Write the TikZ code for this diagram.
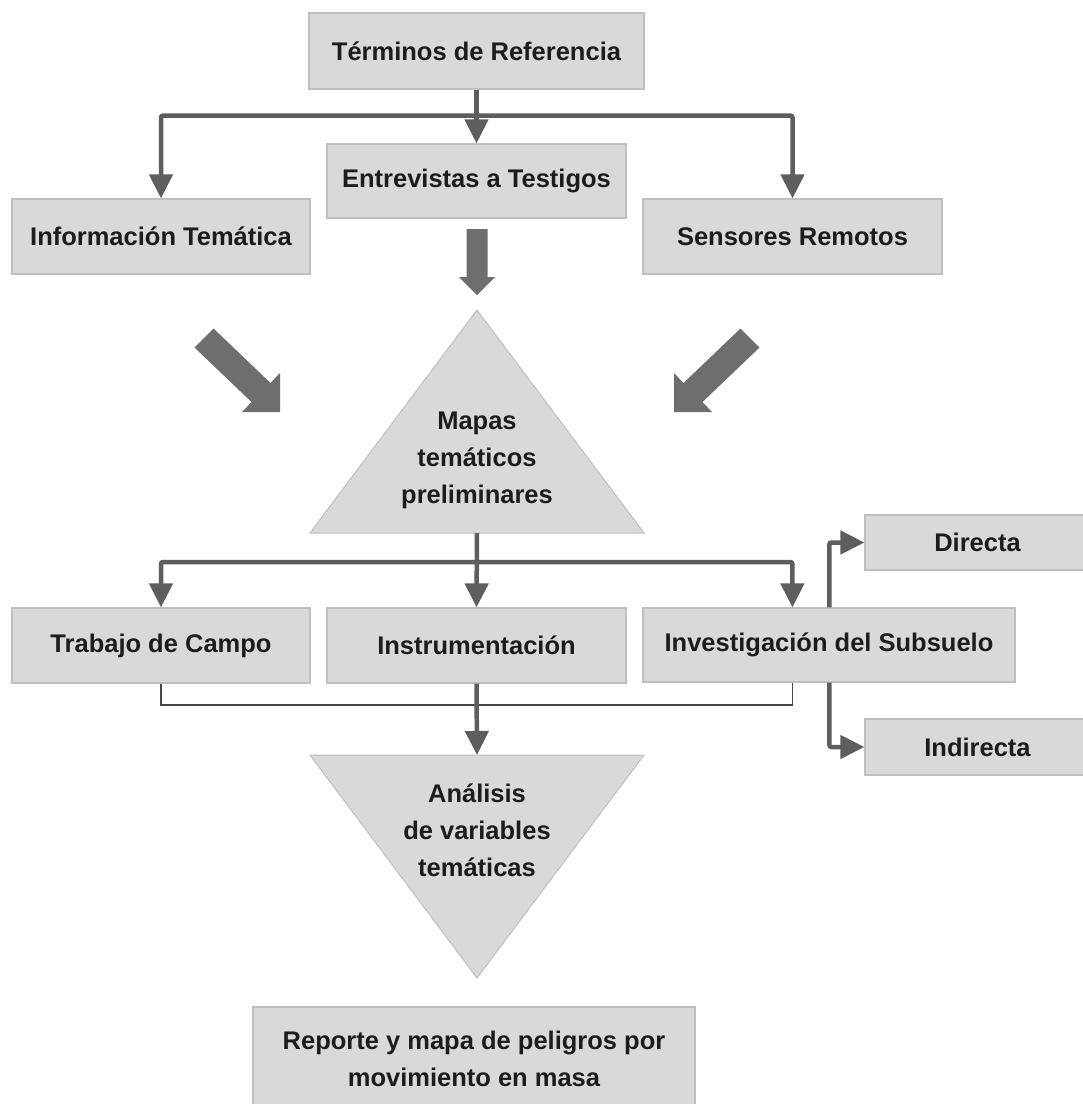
\documentclass[tikz,border=0pt]{standalone}
\usepackage{fontspec}
\setmainfont{Liberation Sans}
\usetikzlibrary{arrows.meta,calc}
\definecolor{boxfill}{HTML}{D9D9D9}
\definecolor{boxline}{HTML}{BFBFBF}
\definecolor{connc}{HTML}{5E5E5E}
\definecolor{bigarr}{HTML}{6E6E6E}
\definecolor{txt}{HTML}{1C1C1C}
\tikzset{
  txtfont/.style={text=txt, font=\bfseries\fontsize{25.5}{37}\selectfont, align=center},
  box/.style={txtfont, draw=boxline, line width=1.2pt, fill=boxfill, inner sep=0pt},
  connline/.style={draw=connc, line width=4.5pt, rounded corners=2pt},
  arr/.style={connline, -{Triangle[length=24pt,width=23pt]}},
  thinline/.style={draw=black!72, line width=1.8pt},
  tri/.style={fill=boxfill, draw=boxline, line width=1pt},
  bigarrow/.style={fill=bigarr},
  lbl/.style={txtfont, inner sep=0pt}
}
\begin{document}
\begin{tikzpicture}[x=1pt,y=-1pt]
\fill[white] (0,0) rectangle (1083,1104);
\useasboundingbox (0,0) rectangle (1083,1104);

% boxes
\node[box, minimum width=335pt, minimum height=76pt] (T) at (476.5,51) {Términos de Referencia};
\node[box, minimum width=299pt, minimum height=74pt] (E) at (476.5,181) {Entrevistas a Testigos};
\node[box, minimum width=298pt, minimum height=75pt] (I) at (161,236.5) {Información Temática};
\node[box, minimum width=299pt, minimum height=75pt] (S) at (792.5,236.5) {Sensores Remotos};

\node[box, minimum width=298pt, minimum height=75pt] (TC) at (161,645.5) {Trabajo de Campo};
\node[box, minimum width=299pt, minimum height=75pt] (IN) at (476.5,645.5) {Instrumentación};
\node[box, minimum width=372pt, minimum height=74pt] (IS) at (829,645) {Investigación del Subsuelo};
\node[box, minimum width=225pt, minimum height=55pt] (D) at (977.5,542.5) {Directa};
\node[box, minimum width=225pt, minimum height=56pt] (ID) at (977.5,747) {Indirecta};
\node[box, minimum width=442pt, minimum height=103pt] (R) at (474,1058.5) {Reporte y mapa de peligros por\\movimiento en masa};

% triangles
\filldraw[tri] (477,310) -- (644,533) -- (310,533) -- cycle;
\coordinate (Mbase) at (477,533);
\node[lbl] (M) at (477,460.5) {Mapas\\temáticos\\preliminares};
\filldraw[tri] (310,755) -- (644,755) -- (477,978) -- cycle;
\coordinate (Atop) at (477,755);
\node[lbl] (A) at (477,830) {Análisis\\de variables\\temáticas};

% big block arrows
\fill[bigarrow] (466.5,229) -- (487.5,229) -- (487.5,277) -- (495,277) -- (477,295) -- (459,277) -- (466.5,277) -- cycle;
\fill[bigarrow] (194.5,347.5) -- (213.5,328.5) -- (270.5,383) -- (280,373) -- (280,412) -- (242,412) -- (251.5,402) -- cycle;
\fill[bigarrow] (759.5,347.5) -- (740.5,328.5) -- (683.5,383) -- (674,373) -- (674,412) -- (712,412) -- (702.5,402) -- cycle;

% connectors top
\coordinate (J1) at ($(T.south)+(0,26)$);
\draw[arr] (T.south) -- (E.north);
\draw[arr] (J1) -| (I.north);
\draw[arr] (J1) -| (S.north);

% connectors middle
\coordinate (J2) at (477,562);
\coordinate (ISin) at ($(IS.north west)+(150,0)$);
\coordinate (ISout) at ($(IS.south west)+(150,0)$);
\coordinate (ISup) at ($(IS.north west)+(187,0)$);
\coordinate (ISdn) at ($(IS.south west)+(187,0)$);
\draw[thinline] (TC.south) -- ++(0,21) -| (ISout);
\draw[arr] (Mbase) -- (IN.north);
\draw[arr] (J2) -| (TC.north);
\draw[arr] (J2) -| (ISin);
\draw[arr] (ISup) |- (D.west);
\draw[arr] (ISdn) |- (ID.west);
\draw[arr] (IN.south) -- (Atop);
\end{tikzpicture}
\end{document}
